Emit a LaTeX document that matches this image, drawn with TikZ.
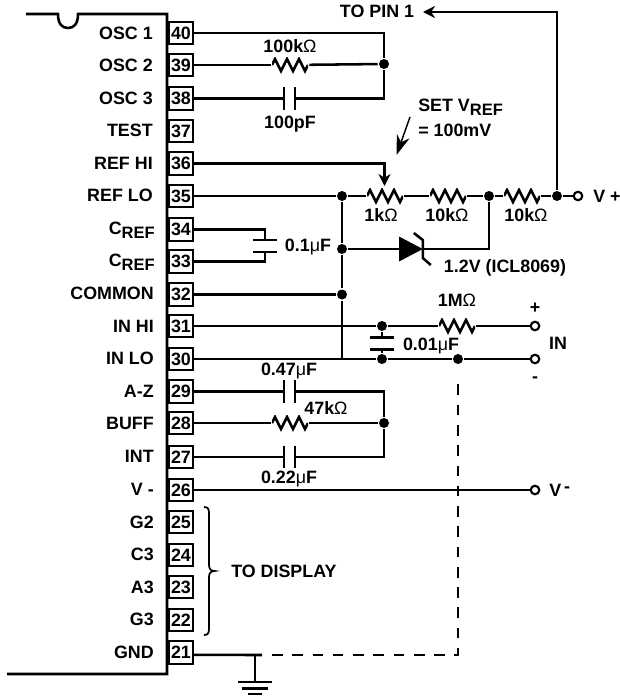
\documentclass[tikz,border=0pt]{standalone}
\usepackage{fontspec}
\setmainfont{Liberation Sans}
\usetikzlibrary{arrows.meta}
\newcommand{\ohm}{{\mdseries Ω}}
\newcommand{\mic}{{\mdseries μ}}
\newcommand{\subref}{\raisebox{-3pt}{\fontsize{12.4}{13}\selectfont REF}}
\begin{document}
\begin{tikzpicture}[x=.75pt,y=-.75pt,>={Stealth[length=9pt,width=9pt]},line width=1.9pt,
txt/.style={font=\fontsize{13.4}{15}\selectfont\bfseries, inner sep=0pt, text height=9.6pt, text depth=0pt},
lab/.style={txt, anchor=east},
pin/.style={txt, draw, line width=1.6pt, minimum width=18.5pt, minimum height=17pt, outer sep=0pt},
dot/.style={circle, fill=black, inner sep=0pt, minimum size=7.5pt},
term/.style={circle, draw, fill=white, line width=1.6pt, inner sep=0pt, minimum size=6.4pt},
res/.style={inner sep=0pt, minimum width=27pt, minimum height=12pt, path picture={
  \draw (path picture bounding box.west) -- ++(3,-6) -- ++(6,12) -- ++(6,-12) -- ++(6,12) -- ++(6,-12) -- ++(6,12) -- ++(3,-6);}},
caph/.style={inner sep=0pt, minimum width=6.4pt, minimum height=15pt, append after command={
  (\tikzlastnode.north west) edge (\tikzlastnode.south west)
  (\tikzlastnode.north east) edge (\tikzlastnode.south east)}},
capv/.style={inner sep=0pt, minimum width=15.5pt, minimum height=6.8pt, append after command={
  (\tikzlastnode.north west) edge (\tikzlastnode.north east)
  (\tikzlastnode.south west) edge (\tikzlastnode.south east)}}]

\useasboundingbox (0,0) rectangle (620,696);

\node[pin] (p40) at (181,33) {40};
\node[pin] (p39) at (181,65) {39};
\node[pin] (p38) at (181,98.5) {38};
\node[pin] (p37) at (181,131) {37};
\node[pin] (p36) at (181,163.5) {36};
\node[pin] (p35) at (181,196) {35};
\node[pin] (p34) at (181,229.5) {34};
\node[pin] (p33) at (181,261.5) {33};
\node[pin] (p32) at (181,294.5) {32};
\node[pin] (p31) at (181,326) {31};
\node[pin] (p30) at (181,359) {30};
\node[pin] (p29) at (181,391.5) {29};
\node[pin] (p28) at (181,423) {28};
\node[pin] (p27) at (181,457) {27};
\node[pin] (p26) at (181,490) {26};
\node[pin] (p25) at (181,522) {25};
\node[pin] (p24) at (181,555) {24};
\node[pin] (p23) at (181,587) {23};
\node[pin] (p22) at (181,620) {22};
\node[pin] (p21) at (181,652.5) {21};

\node[lab] (l40) at (154,33) {OSC 1};
\node[lab] (l39) at (154,65) {OSC 2};
\node[lab] (l38) at (154,98) {OSC 3};
\node[lab] (l37) at (154,130) {TEST};
\node[lab] (l36) at (154,163) {REF HI};
\node[lab] (l35) at (154,195) {REF LO};
\node[lab] (l34) at (156,228) {C\subref};
\node[lab] (l33) at (156,260) {C\subref};
\node[lab] (l32) at (155,293) {COMMON};
\node[lab] (l31) at (155,326) {IN HI};
\node[lab] (l30) at (155,358) {IN LO};
\node[lab] (l29) at (155,391) {A-Z};
\node[lab] (l28) at (155,423) {BUFF};
\node[lab] (l27) at (155,456) {INT};
\node[lab] (l26) at (155,489) {V -};
\node[lab] (l25) at (155,522) {G2};
\node[lab] (l24) at (155,554) {C3};
\node[lab] (l23) at (155,587) {A3};
\node[lab] (l22) at (155,619) {G3};
\node[lab] (l21) at (155,652) {GND};

\draw (26,14) -- (58,14) .. controls (58,24) and (62,28) .. (68,28) .. controls (74,28) and (78,24) .. (78,14) -- (167,14) -- (167,674) -- (7,674);

\node[dot] (j1) at (384,64) {};
\node[dot] (j2) at (342,196) {};
\node[dot] (j3) at (489,196) {};
\node[dot] (j4) at (557,196) {};
\node[dot] (j5) at (342,249) {};
\node[dot] (j6) at (342,294.5) {};
\node[dot] (j7) at (382,326) {};
\node[dot] (j8) at (382,359) {};
\node[dot] (j9) at (458,359) {};
\node[dot] (j10) at (384,423) {};

\node[term] (t1) at (578,196) {};
\node[term] (t2) at (535,326) {};
\node[term] (t3) at (535,359) {};
\node[term] (t4) at (535,490) {};

\node[res] (r1) at (290,65) {};
\node[res] (r2) at (385,196) {};
\node[res] (r3) at (448,196) {};
\node[res] (r4) at (522,196) {};
\node[res] (r5) at (457,326) {};
\node[res] (r6) at (290,423) {};

\node[caph] (c1) at (289.5,98.5) {};
\node[caph] (c2) at (289.5,391.5) {};
\node[caph] (c3) at (289.5,457) {};
\node[capv] (c4) at (265,246) {};
\node[capv] (c5) at (382,343.5) {};

\node[inner sep=0pt, minimum width=15.8pt, minimum height=10pt] (z1) at (411,249) {};

\coordinate (b1) at (342,359);
\coordinate (a1) at (557,12);
\coordinate (a2) at (423,12);
\coordinate (a3) at (384.5,186);
\coordinate (s1) at (410,117);
\coordinate (s2) at (396.5,155);
\coordinate (g1) at (255,655);
\coordinate (g2) at (262,655);
\coordinate (g3) at (255,682);
\coordinate (d1) at (272,655);
\coordinate (d2) at (458,655);
\coordinate (d3) at (458,377);

\draw (p40) -| (j1);
\draw (p39) -- (r1);
\draw (r1) -- (j1);
\draw (p38) -- (c1);
\draw (c1) -| (j1);

\draw[->] (p36) -| (a3);
\draw (p35) -- (j2) -- (r2) -- (r3) -- (j3) -- (r4) -- (j4) -- (t1);
\draw[->] (j4) |- (a2);
\draw[-{Stealth[length=15pt,width=10pt]},line width=1.1pt] (s1) -- (s2);

\draw (p34) -| (c4);
\draw (p33) -| (c4);
\draw (j2) -- (j5) -- (j6) -- (b1);
\draw (p32) -- (j6);

\draw (j5) -- (z1);
\draw (z1) -| (j3);
\fill ([yshift=9.3pt]z1.west) -- ([yshift=-9.3pt]z1.west) -- (z1.east) -- cycle;
\draw (z1.east) ++(-9,-16) -- ++(9,7) -- ++(0,18) -- ++(8,7);

\draw (p31) -- (j7) -- (r5) -- (t2);
\draw (p30) -- (j8) -- (j9) -- (t3);
\draw (j7) -- (c5) -- (j8);

\draw (p29) -- (c2);
\draw (c2) -| (j10);
\draw (p28) -- (r6) -- (j10);
\draw (p27) -- (c3);
\draw (c3) -| (j10);
\draw (p26) -- (t4);

\draw ([yshift=-1.8pt]p21.east) -- (g2);
\draw (g1) -- (g3);
\draw (g3) ++(-17,0) -- ++(34,0);
\draw (g3) ++(-13,6.5) -- ++(26,0);
\draw (g3) ++(-7,12) -- ++(14,0);
\draw[dash pattern=on 8pt off 7.2pt] (d1) -- (d2) -- (d3);

\draw[line width=1.3pt] (204,507) .. controls (208,507) and (209,509) .. (209,513) -- (209,565) .. controls (209,569) and (211,571) .. (214.5,571) .. controls (211,571) and (209,573) .. (209,577) -- (209,629) .. controls (209,633) and (208,635) .. (204,635);

\node[txt] (n1) at (290,46) {100k\ohm};
\node[txt] (n2) at (290,122) {100pF};
\node[txt] (n3) at (377,11) {TO PIN 1};
\node[txt,anchor=west] (n4) at (417,105) {SET V\subref};
\node[txt,anchor=west] (n5) at (417,130) {= 100mV};
\node[txt] (n6) at (381,215) {1k\ohm};
\node[txt] (n7) at (447,215) {10k\ohm};
\node[txt] (n8) at (526,215) {10k\ohm};
\node[txt,anchor=west] (n9) at (592,196) {V +};
\node[txt] (n10) at (308,245) {0.1\mic F};
\node[txt] (n11) at (505,266) {1.2V (ICL8069)};
\node[txt] (n12) at (457,300) {1M\ohm};
\node[txt] (n13) at (535,307) {+};
\node[txt] (n14) at (558,343) {IN};
\node[txt] (n15) at (535,376) {-};
\node[txt] (n16) at (431,344) {0.01\mic F};
\node[txt] (n17) at (289,369) {0.47\mic F};
\node[txt] (n18) at (326,408) {47k\ohm};
\node[txt] (n19) at (289,477) {0.22\mic F};
\node[txt,anchor=west] (n20) at (548,490) {V\,\raisebox{3pt}{-}};
\node[txt,anchor=west] (n21) at (230,571) {TO DISPLAY};

\end{tikzpicture}
\end{document}
